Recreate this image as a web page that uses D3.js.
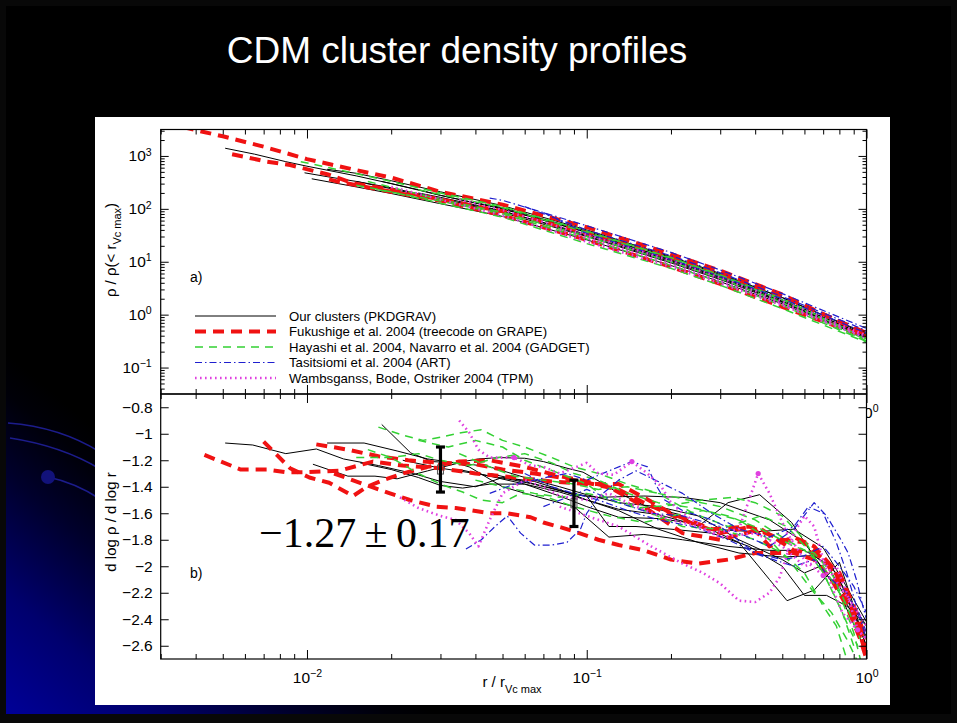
<!DOCTYPE html>
<html>
<head>
<meta charset="utf-8">
<script src="https://cdn.jsdelivr.net/npm/d3@7"></script>
<style>
html, body { margin: 0; padding: 0; background: #000; }
svg { display: block; font-family: "Liberation Sans", Arial, Helvetica, sans-serif; }
</style>
</head>
<body>
<svg id="slide" width="957" height="723"></svg>
<script>
// ---- text ----
var titleText = "CDM cluster density profiles";
var seriesKeys = ["ours", "fuku", "haya", "tasi", "wamb"];
var seriesNames = ["Our clusters (PKDGRAV)",
                   "Fukushige et al. 2004 (treecode on GRAPE)",
                   "Hayashi et al. 2004, Navarro et al. 2004 (GADGET)",
                   "Tasitsiomi et al. 2004 (ART)",
                   "Wambsganss, Bode, Ostriker 2004 (TPM)"];

// ---- panel a: rho / rho(<r_Vcmax) against r / r_Vcmax, one profile per halo ----
var oursRho = [
  [[0.0051,1400],[0.0065,1080],[0.0084,780],[0.01,640],[0.015,420],[0.02,300],[0.03,180],[0.05,100],[0.1,36],[0.2,11],[0.3,5.2],[0.5,1.9],[1,0.4]],
  [[0.0098,480],[0.012,400],[0.015,330],[0.02,240],[0.03,150],[0.05,85],[0.1,30],[0.2,9.5],[0.3,4.6],[0.5,1.7],[1,0.38]],
  [[0.0104,370],[0.015,260],[0.02,195],[0.03,125],[0.05,72],[0.1,26],[0.2,8.5],[0.3,4.2],[0.5,1.6],[1,0.36]],
  [[0.0118,560],[0.015,470],[0.02,340],[0.03,210],[0.05,115],[0.1,40],[0.2,12.5],[0.3,6],[0.5,2.1],[1,0.42]],
  [[0.015,330],[0.02,250],[0.03,155],[0.05,90],[0.1,33],[0.2,10.5],[0.3,5],[0.5,1.8],[1,0.37]],
  [[0.0185,330],[0.025,230],[0.03,180],[0.05,100],[0.1,36],[0.2,11],[0.3,5.4],[0.5,1.9],[1,0.4]],
  [[0.025,200],[0.03,165],[0.05,92],[0.1,31],[0.2,10],[0.3,4.8],[0.5,1.75],[1,0.35]],
  [[0.04,130],[0.05,105],[0.1,38],[0.2,12],[0.3,5.7],[0.5,2.1],[1,0.44]]
];
var fukuRho = [
  [[0.0036,3500],[0.005,2350],[0.007,1500],[0.01,870],[0.015,540],[0.02,390],[0.03,210],[0.05,120],[0.1,45],[0.2,14],[0.3,6.8],[0.5,2.4],[1,0.42]],
  [[0.0054,1080],[0.0072,780],[0.0087,675],[0.012,440],[0.0146,305],[0.02,230],[0.03,150],[0.05,90],[0.1,35],[0.2,12],[0.3,5.8],[0.5,2.2],[1,0.45]],
  [[0.012,360],[0.0128,330],[0.02,210],[0.0306,140],[0.05,75],[0.1,26],[0.2,8],[0.3,3.8],[0.5,1.4],[1,0.38]]
];
var hayaRho = [
  [[0.0095,780],[0.012,600],[0.02,330],[0.03,200],[0.05,110],[0.1,38],[0.2,12],[0.3,5.6],[0.5,2],[1,0.35]],
  [[0.015,280],[0.02,210],[0.03,128],[0.05,70],[0.1,22],[0.2,7.5],[0.3,3.6],[0.5,1.3],[1,0.3]],
  [[0.0165,330],[0.03,150],[0.05,86],[0.1,30],[0.2,10],[0.3,4.8],[0.5,1.7],[1,0.32]],
  [[0.018,230],[0.03,140],[0.05,80],[0.1,27],[0.2,8.5],[0.3,4.1],[0.5,1.5],[1,0.31]],
  [[0.025,230],[0.05,105],[0.1,36],[0.2,11.5],[0.3,5.4],[0.5,1.9],[1,0.33]]
];
var tasiRho = [
  [[0.045,160],[0.05,145],[0.1,48],[0.2,15],[0.3,7],[0.5,2.5],[1,0.55]],
  [[0.06,110],[0.1,40],[0.2,13],[0.3,6.2],[0.5,2.2],[1,0.5]],
  [[0.07,85],[0.1,34],[0.2,11],[0.3,5.3],[0.5,2],[1,0.45]]
];
var wambRho = [
  [[0.02,260],[0.03,150],[0.05,75],[0.1,24],[0.2,8],[0.3,3.9],[0.5,1.5],[1,0.36]],
  [[0.035,150],[0.05,95],[0.1,32],[0.2,10.5],[0.3,5],[0.5,1.8],[1,0.4]],
  [[0.08,40],[0.1,28],[0.2,9],[0.3,4.3],[0.5,1.6],[1,0.38]]
];

// ---- panel b: logarithmic slope d log rho / d log r ----
var oursSlope = [
  [[0.0051,-1.07],[0.0064,-1.085],[0.0084,-1.15],[0.0108,-1.115],[0.0135,-1.19],[0.018,-1.24],[0.024,-1.30],[0.03,-1.36],[0.04,-1.40],[0.05,-1.33],[0.065,-1.36],[0.08,-1.42],[0.1,-1.50],[0.13,-1.58],[0.18,-1.72],[0.25,-1.82],[0.35,-1.90],[0.5,-1.93],[0.65,-1.92],[0.78,-2.05],[0.9,-2.35],[1.0,-2.6]],
  [[0.0118,-1.07],[0.016,-1.07],[0.021,-1.13],[0.027,-1.19],[0.034,-1.22],[0.041,-1.19],[0.049,-1.18],[0.06,-1.185],[0.07,-1.21],[0.085,-1.26],[0.097,-1.29],[0.111,-1.36],[0.128,-1.44],[0.164,-1.55],[0.215,-1.61],[0.25,-1.70],[0.32,-1.52],[0.415,-1.46],[0.54,-1.67],[0.66,-1.95],[0.82,-2.23],[1.0,-2.53]],
  [[0.0185,-0.93],[0.0235,-1.145],[0.028,-1.21],[0.034,-1.22],[0.038,-1.25],[0.05,-1.40],[0.065,-1.47],[0.09,-1.55],[0.12,-1.78],[0.16,-1.76],[0.22,-1.80],[0.32,-1.85],[0.45,-1.88],[0.6,-1.88],[0.75,-2.0],[0.9,-2.3],[1.0,-2.45]],
  [[0.0105,-1.23],[0.014,-1.32],[0.0175,-1.32],[0.021,-1.34],[0.027,-1.28],[0.035,-1.22],[0.045,-1.25],[0.06,-1.33],[0.08,-1.40],[0.1,-1.46],[0.13,-1.52],[0.18,-1.55],[0.25,-1.62],[0.35,-1.80],[0.5,-1.95],[0.6,-2.05],[0.72,-1.98],[0.85,-2.25],[1.0,-2.55]],
  [[0.0155,-1.22],[0.02,-1.27],[0.025,-1.33],[0.03,-1.39],[0.036,-1.41],[0.045,-1.38],[0.06,-1.38],[0.08,-1.44],[0.1,-1.50],[0.13,-1.57],[0.18,-1.61],[0.28,-1.72],[0.4,-1.74],[0.55,-1.72],[0.7,-1.86],[0.82,-2.1],[1.0,-2.42]],
  [[0.022,-1.20],[0.03,-1.26],[0.04,-1.30],[0.055,-1.35],[0.075,-1.41],[0.09,-1.46],[0.11,-1.48],[0.16,-1.47],[0.22,-1.48],[0.3,-1.52],[0.45,-1.65],[0.6,-1.82],[0.8,-2.2],[1.0,-2.65]],
  [[0.035,-1.27],[0.045,-1.32],[0.06,-1.38],[0.08,-1.47],[0.1,-1.55],[0.13,-1.63],[0.18,-1.64],[0.25,-1.68],[0.35,-1.82],[0.45,-2.1],[0.52,-2.26],[0.65,-2.18],[0.8,-1.97],[0.9,-2.3],[1.0,-2.62]],
  [[0.045,-1.30],[0.06,-1.36],[0.08,-1.43],[0.1,-1.47],[0.12,-1.70],[0.15,-1.70],[0.2,-1.72],[0.28,-1.75],[0.38,-1.85],[0.5,-2.0],[0.6,-2.22],[0.72,-2.22],[0.85,-2.3],[1.0,-2.45]]
];
var fukuSlope = [
  [[0.0043,-1.16],[0.0058,-1.27],[0.0072,-1.27],[0.0084,-1.29],[0.01,-1.29],[0.013,-1.28],[0.0172,-1.21],[0.022,-1.24],[0.03,-1.26],[0.04,-1.30],[0.055,-1.33],[0.075,-1.36],[0.1,-1.38],[0.13,-1.38],[0.16,-1.48],[0.2,-1.60],[0.28,-1.72],[0.38,-1.70],[0.5,-1.80],[0.6,-1.82],[0.72,-1.97],[0.85,-2.25],[1.0,-2.6]],
  [[0.007,-1.06],[0.0078,-1.16],[0.0087,-1.26],[0.0102,-1.33],[0.012,-1.37],[0.0146,-1.47],[0.0164,-1.40],[0.0187,-1.35],[0.022,-1.30],[0.027,-1.25],[0.035,-1.21],[0.045,-1.20],[0.06,-1.25],[0.08,-1.32],[0.1,-1.36],[0.12,-1.40],[0.16,-1.55],[0.22,-1.75],[0.3,-1.80],[0.42,-1.72],[0.55,-1.88],[0.65,-1.90],[0.8,-2.05],[0.9,-2.3],[1.0,-2.55]],
  [[0.0125,-1.30],[0.0164,-1.39],[0.0198,-1.45],[0.0233,-1.50],[0.029,-1.55],[0.034,-1.56],[0.045,-1.60],[0.052,-1.60],[0.063,-1.63],[0.07,-1.67],[0.082,-1.71],[0.094,-1.75],[0.11,-1.80],[0.13,-1.84],[0.16,-1.88],[0.2,-1.95],[0.25,-1.98],[0.32,-1.95],[0.4,-1.90],[0.55,-1.90],[0.65,-1.95],[0.75,-2.1],[0.85,-2.3],[0.95,-2.55],[1.0,-2.7]],
  [[0.0108,-1.08],[0.014,-1.12],[0.018,-1.17],[0.023,-1.20],[0.03,-1.22],[0.04,-1.23],[0.05,-1.27],[0.065,-1.30],[0.08,-1.33],[0.1,-1.37],[0.13,-1.42],[0.16,-1.52],[0.22,-1.65],[0.3,-1.75],[0.39,-1.70],[0.45,-1.85],[0.55,-1.78],[0.65,-1.85],[0.75,-2.0],[0.85,-2.2],[0.93,-2.45],[1.0,-2.68]]
];
var hayaSlope = [
  [[0.018,-0.95],[0.022,-1.01],[0.026,-1.05],[0.031,-1.02],[0.036,-0.99],[0.042,-0.97],[0.05,-1.05],[0.06,-1.10],[0.075,-1.18],[0.09,-1.25],[0.11,-1.30],[0.14,-1.38],[0.18,-1.45],[0.23,-1.50],[0.3,-1.55],[0.4,-1.65],[0.5,-1.78],[0.6,-1.88],[0.7,-2.0],[0.8,-2.2],[0.9,-2.5],[0.95,-2.7]],
  [[0.0165,-1.12],[0.02,-1.18],[0.025,-1.30],[0.03,-1.38],[0.036,-1.44],[0.042,-1.50],[0.05,-1.52],[0.058,-1.45],[0.07,-1.47],[0.09,-1.55],[0.12,-1.62],[0.16,-1.67],[0.2,-1.62],[0.26,-1.58],[0.35,-1.65],[0.45,-1.80],[0.55,-2.0],[0.65,-2.2],[0.75,-2.35],[0.85,-2.55],[0.92,-2.7]],
  [[0.015,-1.18],[0.02,-1.18],[0.025,-1.15],[0.03,-1.20],[0.038,-1.24],[0.048,-1.18],[0.06,-1.15],[0.075,-1.22],[0.09,-1.30],[0.11,-1.35],[0.14,-1.45],[0.18,-1.52],[0.24,-1.56],[0.32,-1.62],[0.42,-1.72],[0.55,-1.85],[0.65,-1.90],[0.75,-2.05],[0.85,-2.3],[0.95,-2.55]],
  [[0.025,-1.05],[0.032,-1.10],[0.04,-1.05],[0.05,-1.10],[0.06,-1.20],[0.08,-1.30],[0.1,-1.38],[0.12,-1.50],[0.15,-1.56],[0.2,-1.54],[0.26,-1.50],[0.33,-1.48],[0.4,-1.52],[0.5,-1.62],[0.6,-1.80],[0.7,-2.05],[0.78,-2.25],[0.86,-2.45],[0.93,-2.6]],
  [[0.035,-1.15],[0.045,-1.25],[0.055,-1.32],[0.07,-1.35],[0.09,-1.38],[0.11,-1.42],[0.14,-1.40],[0.18,-1.45],[0.24,-1.60],[0.32,-1.70],[0.42,-1.62],[0.52,-1.70],[0.62,-1.88],[0.72,-2.1],[0.82,-2.35],[0.9,-2.6]],
  [[0.04,-1.35],[0.05,-1.40],[0.065,-1.45],[0.08,-1.48],[0.1,-1.45],[0.13,-1.50],[0.17,-1.60],[0.22,-1.70],[0.3,-1.72],[0.4,-1.80],[0.5,-1.90],[0.6,-2.05],[0.7,-2.3],[0.78,-2.45],[0.85,-2.7]]
];
var tasiSlope = [
  [[0.037,-1.87],[0.042,-1.80],[0.047,-1.70],[0.052,-1.62],[0.058,-1.75],[0.065,-1.84],[0.075,-1.84],[0.085,-1.82],[0.095,-1.72],[0.1,-1.60],[0.11,-1.48],[0.13,-1.35],[0.15,-1.28],[0.18,-1.36],[0.22,-1.45],[0.28,-1.60],[0.35,-1.72],[0.45,-1.78],[0.55,-1.70],[0.62,-1.55],[0.7,-1.60],[0.78,-1.82],[0.85,-2.05],[0.92,-2.3],[1.0,-2.5]],
  [[0.045,-1.45],[0.055,-1.38],[0.065,-1.35],[0.075,-1.32],[0.085,-1.30],[0.1,-1.35],[0.12,-1.28],[0.145,-1.21],[0.165,-1.25],[0.175,-1.37],[0.19,-1.50],[0.22,-1.58],[0.28,-1.65],[0.35,-1.75],[0.45,-1.85],[0.55,-1.72],[0.65,-1.52],[0.72,-1.62],[0.8,-1.78],[0.86,-1.90],[0.92,-2.1],[0.97,-2.3],[1.0,-2.4]],
  [[0.06,-1.30],[0.075,-1.40],[0.09,-1.45],[0.11,-1.50],[0.14,-1.58],[0.18,-1.65],[0.24,-1.70],[0.32,-1.80],[0.42,-1.92],[0.55,-2.0],[0.65,-1.95],[0.75,-2.1],[0.85,-2.2],[0.95,-2.4],[1.0,-2.55]],
  [[0.07,-1.55],[0.085,-1.48],[0.1,-1.42],[0.13,-1.52],[0.17,-1.60],[0.22,-1.62],[0.3,-1.70],[0.4,-1.90],[0.5,-1.95],[0.6,-1.92],[0.7,-1.85],[0.8,-2.0],[0.9,-2.15],[1.0,-2.35]]
];
var wambSlope = [
  [[0.0215,-1.48],[0.025,-1.56],[0.03,-1.62],[0.034,-1.65],[0.038,-1.75],[0.041,-1.85],[0.045,-1.65],[0.05,-1.45],[0.06,-1.35],[0.07,-1.40],[0.08,-1.47],[0.1,-1.50],[0.12,-1.45],[0.15,-1.55],[0.2,-1.65],[0.25,-1.70],[0.3,-1.78],[0.4,-1.75],[0.5,-1.85],[0.6,-2.0],[0.7,-1.95],[0.8,-2.15],[0.9,-2.3],[1.0,-2.45]],
  [[0.035,-0.90],[0.038,-0.99],[0.041,-1.12],[0.045,-1.18],[0.055,-1.18],[0.063,-1.24],[0.07,-1.25],[0.08,-1.30],[0.1,-1.22],[0.11,-1.30],[0.125,-1.31],[0.145,-1.21],[0.165,-1.30],[0.185,-1.40],[0.2,-1.52],[0.22,-1.60],[0.28,-1.75],[0.35,-1.72],[0.41,-1.30],[0.45,-1.45],[0.52,-1.75],[0.6,-1.95],[0.7,-2.07],[0.78,-2.0],[0.85,-2.2],[0.93,-2.48],[1.0,-2.55]],
  [[0.08,-1.55],[0.1,-1.62],[0.13,-1.70],[0.17,-1.85],[0.22,-1.98],[0.26,-2.05],[0.3,-2.13],[0.35,-2.26],[0.4,-2.27],[0.45,-2.20],[0.49,-2.08],[0.55,-1.75],[0.6,-1.62],[0.65,-1.70],[0.7,-1.95],[0.75,-2.15],[0.82,-2.35],[0.9,-2.45],[1.0,-2.55]]
];
var wambMarks = [[0.055,-1.18],[0.145,-1.21],[0.41,-1.30],[0.7,-2.07],[0.93,-2.48]];

// ---- inner slope estimates with 1-sigma bars ----
var slopeR = [0.03, 0.09];
var slopeMid = [-1.27, -1.525];
var slopeErr = [0.17, 0.175];
var slopeText = "\u22121.27\u2009\u00b1\u20090.17";

// ---- look of each code ----
var styles = {
  ours: { stroke: "#000000", width: 1,   dash: null },
  fuku: { stroke: "#f01212", width: 4,   dash: "11,7" },
  haya: { stroke: "#33d133", width: 1.5, dash: "8,6" },
  tasi: { stroke: "#1f1fcf", width: 1.2, dash: "7,3,1.5,3" },
  wamb: { stroke: "#e040e0", width: 2.6, dash: "1.6,3.4" }
};
var tickFont = "15.5px";

var svg = d3.select("#slide");

// ---- slide background ----
var defs = svg.append("defs");
var grad = defs.append("linearGradient").attr("id", "bgGrad")
    .attr("gradientUnits", "userSpaceOnUse")
    .attr("x1", 0).attr("y1", 723).attr("x2", 330).attr("y2", 330);
[[0, "#00009c"], [0.2, "#00006e"], [0.38, "#00002c"], [0.5, "#000008"], [0.56, "#000000"]]
  .forEach(function(s){ grad.append("stop").attr("offset", s[0]).attr("stop-color", s[1]); });

svg.append("rect").attr("width", 957).attr("height", 723).attr("fill", "#080808");
svg.append("rect").attr("x", 6).attr("y", 6).attr("width", 945).attr("height", 708).attr("fill", "url(#bgGrad)");

var deco = svg.append("g").attr("fill", "none").attr("stroke", "#1c1c8c").attr("stroke-width", 1.6);
deco.append("path").attr("d", "M8,423 Q60,427 100,452");
deco.append("path").attr("d", "M10,438 Q62,446 100,469");
deco.append("path").attr("d", "M48,477 Q76,483 100,499");
svg.append("circle").attr("cx", 48).attr("cy", 477).attr("r", 7).attr("fill", "#12127a");

svg.append("text").attr("x", 457).attr("y", 63).attr("text-anchor", "middle")
    .attr("fill", "#fff").style("font-size", "37px").text(titleText);

svg.append("rect").attr("x", 95).attr("y", 117).attr("width", 795).attr("height", 588).attr("fill", "#fff");

// ---- scales ----
var left = 160.7, right = 866.5, topA = 129.5, mid = 394, botB = 659;
var x = d3.scaleLog().domain([0.003, 1]).range([left, right]);
var yA = d3.scaleLog().domain([Math.pow(10, -1.5), Math.pow(10, 3.5)]).range([mid, topA]);
var yB = d3.scaleLinear().domain([-2.7, -0.7]).range([botB, mid]);

function isDecade(v){ var l = Math.log10(v); return Math.abs(l - Math.round(l)) < 1e-6; }
var xMajor = x.ticks().filter(isDecade), xMinor = x.ticks().filter(function(v){ return !isDecade(v); });
var yAMajor = yA.ticks().filter(isDecade), yAMinor = yA.ticks().filter(function(v){ return !isDecade(v); });
var yBMajor = yB.ticks(10);

function powLabel(sel){
  sel.each(function(d){
    var t = d3.select(this), e = Math.round(Math.log10(d));
    t.text("10");
    t.append("tspan").attr("dy", "-0.55em").style("font-size", "0.68em")
      .text(e < 0 ? "\u2212" + (-e) : String(e));
  });
}

function styleAxis(g){
  g.attr("font-family", null).attr("font-size", null);
  g.select(".domain").remove();
  g.selectAll("line").attr("stroke", "#000");
  g.selectAll("text").attr("fill", "#000").style("font-size", tickFont);
}

function addAxis(gen, tx, ty){
  return svg.append("g").attr("transform", "translate(" + tx + "," + ty + ")").call(gen).call(styleAxis);
}

function drawGroup(g, key, lists, ys){
  var st = styles[key];
  var line = d3.line().x(function(d){ return x(d[0]); }).y(function(d){ return ys(d[1]); });
  g.append("g").selectAll("path").data(lists).join("path")
    .attr("d", line).attr("fill", "none")
    .attr("stroke", st.stroke).attr("stroke-width", st.width)
    .attr("stroke-dasharray", st.dash).attr("stroke-linejoin", "round");
}

function clipFor(id, y0, y1){
  defs.append("clipPath").attr("id", id).append("rect")
    .attr("x", left).attr("y", y0).attr("width", right - left).attr("height", y1 - y0);
  return "url(#" + id + ")";
}

// ================= panel a =================
var gA = svg.append("g").attr("clip-path", clipFor("clipA", topA, mid));
var rhoSets = { ours: oursRho, fuku: fukuRho, haya: hayaRho, tasi: tasiRho, wamb: wambRho };
seriesKeys.forEach(function(k){ drawGroup(gA, k, rhoSets[k], yA); });

// legend
var leg = svg.append("g");
seriesKeys.forEach(function(k, i){
  var st = styles[k], ly = 316 + i * 15.5;
  leg.append("line").attr("x1", 195).attr("x2", 276).attr("y1", ly).attr("y2", ly)
    .attr("stroke", st.stroke).attr("stroke-width", st.width).attr("stroke-dasharray", st.dash);
  leg.append("text").attr("x", 289).attr("y", ly + 4.6).style("font-size", "13.2px").text(seriesNames[i]);
});
svg.append("text").attr("x", 190).attr("y", 282).style("font-size", "14px").text("a)");

addAxis(d3.axisTop(x).tickValues(xMajor).tickSizeInner(-9).tickSizeOuter(0).tickFormat(""), 0, topA);
addAxis(d3.axisTop(x).tickValues(xMinor).tickSizeInner(-5).tickSizeOuter(0).tickFormat(""), 0, topA);
addAxis(d3.axisBottom(x).tickValues(xMajor).tickSizeInner(-9).tickSizeOuter(0).tickPadding(13), 0, mid)
  .selectAll("text").call(powLabel);
addAxis(d3.axisBottom(x).tickValues(xMinor).tickSizeInner(-5).tickSizeOuter(0).tickFormat(""), 0, mid);
addAxis(d3.axisLeft(yA).tickValues(yAMajor).tickSizeInner(-8).tickSizeOuter(0).tickPadding(9), left, 0)
  .selectAll("text").call(powLabel);
addAxis(d3.axisLeft(yA).tickValues(yAMinor).tickSizeInner(-4).tickSizeOuter(0).tickFormat(""), left, 0);
addAxis(d3.axisRight(yA).tickValues(yAMajor).tickSizeInner(-8).tickSizeOuter(0).tickFormat(""), right, 0);
addAxis(d3.axisRight(yA).tickValues(yAMinor).tickSizeInner(-4).tickSizeOuter(0).tickFormat(""), right, 0);

var yLabA = svg.append("text").attr("transform", "translate(116,250) rotate(-90)")
    .attr("text-anchor", "middle").style("font-size", "15px");
yLabA.append("tspan").text("\u03c1 / \u03c1(< r");
yLabA.append("tspan").attr("dy", 4.5).style("font-size", "11px").text("Vc max");
yLabA.append("tspan").attr("dy", -4.5).text(")");

// ================= panel b =================
svg.append("rect").attr("x", left).attr("y", mid).attr("width", right - left).attr("height", botB - mid).attr("fill", "#fff");
var gB = svg.append("g").attr("clip-path", clipFor("clipB", mid, botB));
var slopeSets = { ours: oursSlope, fuku: fukuSlope, haya: hayaSlope, tasi: tasiSlope, wamb: wambSlope };
seriesKeys.forEach(function(k){ drawGroup(gB, k, slopeSets[k], yB); });
gB.append("g").selectAll("circle").data(wambMarks).join("circle")
  .attr("cx", function(d){ return x(d[0]); }).attr("cy", function(d){ return yB(d[1]); })
  .attr("r", 2.6).attr("fill", styles.wamb.stroke);

// error bars
var eb = svg.append("g");
slopeR.forEach(function(r, i){
  var cx = x(r), y0 = yB(slopeMid[i] + slopeErr[i]), y1 = yB(slopeMid[i] - slopeErr[i]);
  eb.append("rect").attr("x", cx - 3).attr("y", yB(slopeMid[i]) - 4.5).attr("width", 6).attr("height", 9)
    .attr("fill", "none").attr("stroke", "#555").attr("stroke-width", 1);
  eb.append("line").attr("x1", cx).attr("x2", cx).attr("y1", y0).attr("y2", y1).attr("stroke", "#000").attr("stroke-width", 3.2);
  [y0, y1].forEach(function(yy){
    eb.append("line").attr("x1", cx - 4.5).attr("x2", cx + 4.5).attr("y1", yy).attr("y2", yy)
      .attr("stroke", "#000").attr("stroke-width", 3.2);
  });
});

svg.append("text").attr("x", 259).attr("y", 547)
  .style("font-family", "'Liberation Serif', 'Times New Roman', serif")
  .style("font-size", "42px").text(slopeText);
svg.append("text").attr("x", 190).attr("y", 578).style("font-size", "14px").text("b)");

addAxis(d3.axisTop(x).tickValues(xMajor).tickSizeInner(-9).tickSizeOuter(0).tickFormat(""), 0, mid);
addAxis(d3.axisTop(x).tickValues(xMinor).tickSizeInner(-5).tickSizeOuter(0).tickFormat(""), 0, mid);
addAxis(d3.axisBottom(x).tickValues(xMajor).tickSizeInner(-9).tickSizeOuter(0).tickPadding(13), 0, botB)
  .selectAll("text").call(powLabel);
addAxis(d3.axisBottom(x).tickValues(xMinor).tickSizeInner(-5).tickSizeOuter(0).tickFormat(""), 0, botB);
addAxis(d3.axisLeft(yB).tickValues(yBMajor).tickSizeInner(-8).tickSizeOuter(0).tickPadding(8).tickFormat(d3.format("~g")), left, 0);
addAxis(d3.axisRight(yB).tickValues(yBMajor).tickSizeInner(-8).tickSizeOuter(0).tickFormat(""), right, 0);

svg.append("text").attr("transform", "translate(116,522) rotate(-90)")
    .attr("text-anchor", "middle").style("font-size", "15px").text("d log \u03c1 / d log r");

var xLab = svg.append("text").attr("x", 512).attr("y", 687).attr("text-anchor", "middle").style("font-size", "15px");
xLab.append("tspan").text("r / r");
xLab.append("tspan").attr("dy", 6).style("font-size", "11px").text("Vc max");

// frames
[[topA, mid], [mid, botB]].forEach(function(p){
  svg.append("rect").attr("x", left).attr("y", p[0]).attr("width", right - left).attr("height", p[1] - p[0])
    .attr("fill", "none").attr("stroke", "#000").attr("stroke-width", 1.2);
});
</script>
</body>
</html>
